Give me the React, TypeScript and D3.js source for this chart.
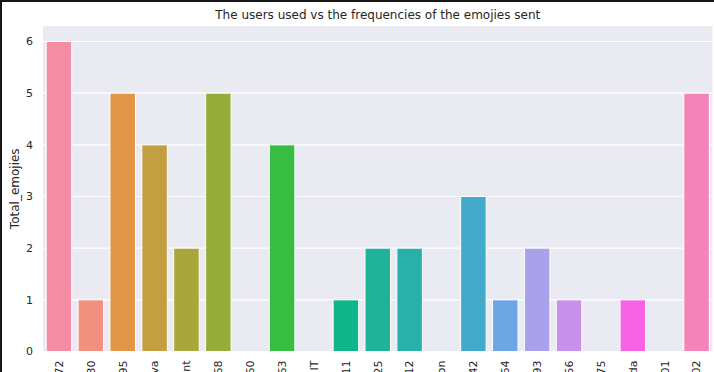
import * as d3 from "d3";

// visible (cropped) tick label endings, one per user
const users = ["72", "30", "95", "va", "nt", "68", "60", "63", "IT", "11", "25", "12", "on", "42", "64", "93", "56", "75", "da", "01", "02"];
const totalEmojies = [6, 1, 5, 4, 2, 5, 0, 4, 0, 1, 2, 2, 0, 3, 1, 2, 1, 0, 1, 0, 5];
const barColors = [
  "#f48ca5", "#f0907f", "#e09646", "#c39f42", "#aaa63e", "#96ad3c", "#6cb43c",
  "#37bd41", "#1fba6a", "#10b68a", "#21b39a", "#2ab0aa", "#31aebb", "#44aacb",
  "#6ca6e3", "#a9a1ec", "#c891ea", "#e287e8", "#f764e3", "#f579cd", "#f483b9",
];
const yTicks = [0, 1, 2, 3, 4, 5, 6];

const W = 714;
const H = 372;
const margin = { left: 43, right: 1.5, top: 26, bottom: 20.5 };
const FONT = "DejaVu Sans, sans-serif";

export default function App() {
  const x = d3
    .scaleBand<string>()
    .domain(users)
    .range([margin.left, W - margin.right])
    .paddingInner(0.2)
    .paddingOuter(0.1);

  const y = d3
    .scaleLinear()
    .domain([0, 6.3])
    .range([H - margin.bottom, margin.top]);

  const plotW = W - margin.left - margin.right;
  const plotH = H - margin.top - margin.bottom;

  return (
    <div style={{ position: "fixed", left: 0, top: 0 }}>
      <svg width={W} height={H} style={{ display: "block", background: "#fff" }}>
        {/* frame on top and left edge */}
        <rect x={0} y={0} width={W} height={2} fill="#151515" />
        <rect x={0} y={0} width={2} height={H} fill="#151515" />

        <text x={margin.left + plotW / 2} y={19} textAnchor="middle" fontFamily={FONT} fontSize={12} fill="#262626">
          The users used vs the frequencies of the emojies sent
        </text>

        <rect x={margin.left} y={margin.top} width={plotW} height={plotH} fill="#eaeaf2" />

        {yTicks.map((t) => (
          <g key={t}>
            <line x1={margin.left} x2={W - margin.right} y1={y(t)} y2={y(t)} stroke="#fff" strokeWidth={1.2} />
            <text x={33} y={y(t)} dy="0.35em" textAnchor="end" fontFamily={FONT} fontSize={11} fill="#262626">
              {t}
            </text>
          </g>
        ))}

        {users.map((u, i) =>
          totalEmojies[i] > 0 ? (
            <rect
              key={u + i}
              x={x(u)}
              y={y(totalEmojies[i])}
              width={x.bandwidth()}
              height={y(0) - y(totalEmojies[i])}
              fill={barColors[i]}
              stroke="#fff"
              strokeWidth={1}
            />
          ) : null
        )}

        {users.map((u, i) => (
          <text
            key={"l" + i}
            transform={`translate(${(x(u) ?? 0) + x.bandwidth() / 2},${y(0) + 9}) rotate(-90)`}
            dy="0.35em"
            textAnchor="end"
            fontFamily={FONT}
            fontSize={11}
            fill="#262626"
          >
            {u}
          </text>
        ))}

        <text
          transform={`translate(15,${margin.top + plotH / 2}) rotate(-90)`}
          dy="0.35em"
          textAnchor="middle"
          fontFamily={FONT}
          fontSize={12}
          fill="#262626"
        >
          Total_emojies
        </text>
      </svg>
    </div>
  );
}
